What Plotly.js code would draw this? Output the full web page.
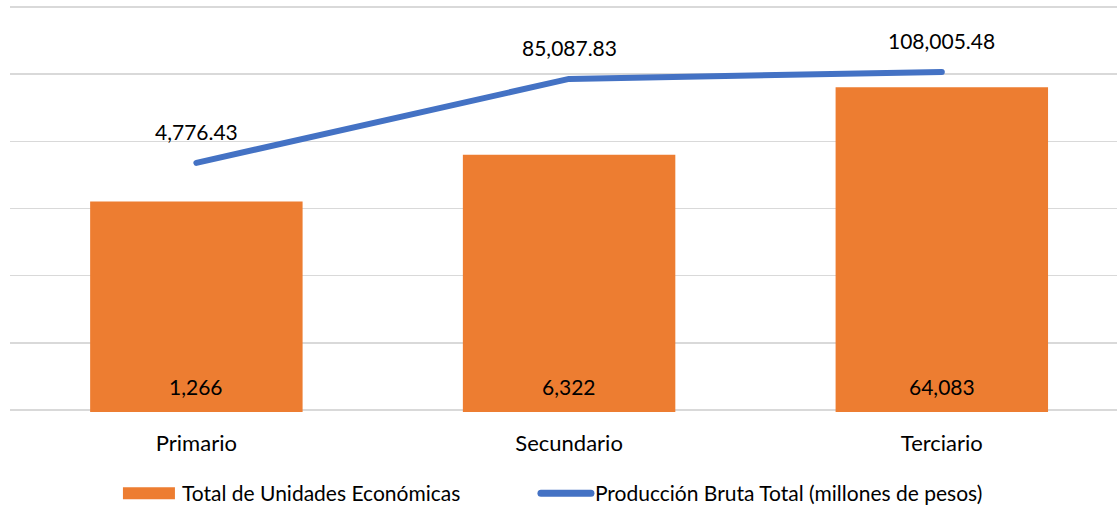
<!DOCTYPE html>
<html>
<head>
<meta charset="utf-8">
<script src="https://cdn.plot.ly/plotly-3.0.1.min.js"></script>
<style>html,body{margin:0;padding:0;background:#fff;overflow:hidden}#chart{width:1117px;height:510px}</style>
</head>
<body>
<div id="chart"></div>
<script>
const categories = ["Primario", "Secundario", "Terciario"];
const unidades = [1266, 6322, 64083];
const unidadesLabels = ["1,266", "6,322", "64,083"];
const produccion = [4776.43, 85087.83, 108005.48];
const produccionLabels = ["4,776.43", "85,087.83", "108,005.48"];
const seriesNames = ["Total de Unidades Económicas", "Producción Bruta Total (millones de pesos)"];

const FONT = "Lato, 'Open Sans', sans-serif";

const traces = [
  {
    type: "bar",
    name: seriesNames[0],
    x: categories,
    y: unidades,
    width: 0.57,
    marker: {color: "#ed7d31"},
    hoverinfo: "skip"
  },
  {
    type: "scatter",
    mode: "lines",
    name: seriesNames[1],
    x: categories,
    y: produccion,
    line: {color: "#4472c4", width: 6},
    hoverinfo: "skip"
  }
];

const lineAnn = categories.map((c, i) => ({
  x: c, y: Math.log10(produccion[i]), xref: "x", yref: "y",
  text: produccionLabels[i], showarrow: false, yshift: 31, yanchor: "middle",
  font: {family: FONT, size: 21, color: "#000"}
}));
const barAnn = categories.map((c, i) => ({
  x: c, y: 0, xref: "x", yref: "y",
  text: unidadesLabels[i], showarrow: false, yshift: 23, yanchor: "middle",
  font: {family: FONT, size: 21, color: "#000"}
}));

const layout = {
  width: 1117, height: 510,
  margin: {l: 10, r: 0, t: 5, b: 98},
  paper_bgcolor: "#fff", plot_bgcolor: "#fff",
  font: {family: FONT, size: 21, color: "#000"},
  showlegend: true,
  legend: {orientation: "h", xref: "paper", x: 0.0957, xanchor: "left",
           yref: "container", y: 0.0324, yanchor: "middle",
           bgcolor: "rgba(0,0,0,0)",
           font: {family: FONT, size: 21, color: "#000"}, itemwidth: 56,
           entrywidth: 342, entrywidthmode: "pixels", traceorder: "normal"},
  xaxis: {type: "category", range: [-0.5, 2.47], showgrid: false, zeroline: false, showline: false,
          ticks: "", ticklabelstandoff: 16, tickfont: {family: FONT, size: 22, color: "#000"}, fixedrange: true},
  yaxis: {type: "log", range: [-0.03, 6.03], tickvals: [1, 10, 100, 1000, 10000, 100000, 1000000],
          showticklabels: false, showgrid: true,
          gridcolor: "#d9d9d9", gridwidth: 1.5, zeroline: false, showline: false, ticks: "", fixedrange: true},
  annotations: lineAnn.concat(barAnn),
  bargap: 0.43
};

function fixLegend() {
  document.querySelectorAll("#chart .legend [clip-path]").forEach(e => e.removeAttribute("clip-path"));
  document.querySelectorAll("#chart .scatterlayer .js-line").forEach(p => {
    p.style.strokeLinecap = "round";
    p.style.strokeLinejoin = "round";
  });
  const items = document.querySelectorAll("#chart .legend .traces");
  if (items.length < 2) return;
  items[0].querySelectorAll(".legendpoints path").forEach(p => {
    p.setAttribute("d", "M-26,-6H26V6H-26Z");
  });
  items[1].querySelectorAll(".legendlines path").forEach(p => {
    p.setAttribute("d", "M12,0h50");
    p.style.strokeLinecap = "round";
    p.style.strokeWidth = "7px";
  });
}

Plotly.newPlot("chart", traces, layout, {displayModeBar: false, staticPlot: true}).then(gd => {
  fixLegend();
  gd.on && gd.on("plotly_afterplot", fixLegend);
  setTimeout(fixLegend, 30);
});
</script>
</body>
</html>
